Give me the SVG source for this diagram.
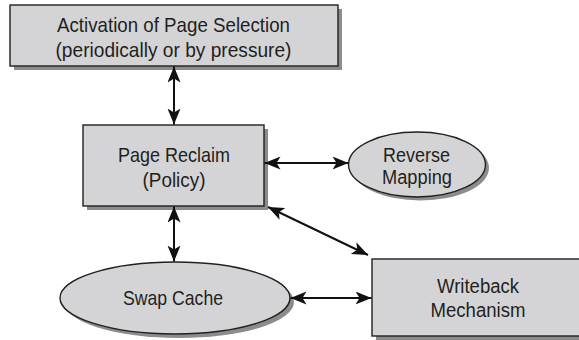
<svg xmlns="http://www.w3.org/2000/svg" width="579" height="340" viewBox="0 0 579 340">
<style>
.box{fill:#d4d4d6;stroke:#231f20;stroke-width:1.4}
.sh{fill:#8c8c8c}
.t{font-family:"Liberation Sans",Arial,sans-serif;font-size:21px;fill:#231f20;text-anchor:middle}
.s{font-size:20px}
.c{stroke:#111;stroke-width:2;fill:none;marker-start:url(#ah);marker-end:url(#ah)}
</style>
<defs>
<marker id="ah" markerUnits="userSpaceOnUse" markerWidth="18" markerHeight="14" refX="16" refY="6.5" orient="auto-start-reverse" viewBox="0 0 18 14">
<path d="M0,0 L16,6.5 L0,13 L4,6.5 z" fill="#111"/>
</marker>
</defs>
<rect width="579" height="340" fill="#fff"/>
<g id="activation">
<rect class="sh" x="14" y="9" width="328" height="61"/>
<rect class="box" x="10" y="5" width="328" height="61"/>
<text class="t" x="173.5" y="32" textLength="233" lengthAdjust="spacingAndGlyphs">Activation of Page Selection</text>
<text class="t" x="173.5" y="57" textLength="236" lengthAdjust="spacingAndGlyphs">(periodically or by pressure)</text>
</g>
<g id="page-reclaim">
<rect class="sh" x="87" y="129" width="181" height="81"/>
<rect class="box" x="83" y="125" width="181" height="81"/>
<text class="t" x="174" y="162" textLength="112" lengthAdjust="spacingAndGlyphs">Page Reclaim</text>
<text class="t" x="174" y="187" textLength="63" lengthAdjust="spacingAndGlyphs">(Policy)</text>
</g>
<g id="reverse-mapping">
<ellipse class="sh" cx="420.5" cy="168" rx="68.5" ry="32.5"/>
<ellipse class="box" cx="417" cy="164.5" rx="68.5" ry="32.5"/>
<text class="t s" x="416.5" y="162" textLength="67" lengthAdjust="spacingAndGlyphs">Reverse</text>
<text class="t s" x="417" y="184" textLength="70" lengthAdjust="spacingAndGlyphs">Mapping</text>
</g>
<g id="swap-cache">
<ellipse class="sh" cx="179" cy="302" rx="115" ry="36"/>
<ellipse class="box" cx="175" cy="298" rx="115" ry="36"/>
<text class="t" x="173" y="305" textLength="100" lengthAdjust="spacingAndGlyphs">Swap Cache</text>
</g>
<g id="writeback">
<rect class="sh" x="376" y="263" width="215" height="77"/>
<rect class="box" x="372" y="259" width="215" height="77"/>
<text class="t s" x="478" y="293" textLength="82" lengthAdjust="spacingAndGlyphs">Writeback</text>
<text class="t s" x="478" y="317" textLength="95" lengthAdjust="spacingAndGlyphs">Mechanism</text>
</g>
<g id="connectors">
<line class="c" x1="174" y1="66.5" x2="174" y2="124.5"/>
<line class="c" x1="264.5" y1="163" x2="348.5" y2="163"/>
<line class="c" x1="174" y1="206.5" x2="174" y2="261.5"/>
<line class="c" x1="268" y1="207" x2="368" y2="255"/>
<line class="c" x1="290.5" y1="298" x2="371.5" y2="298"/>
</g>
</svg>
